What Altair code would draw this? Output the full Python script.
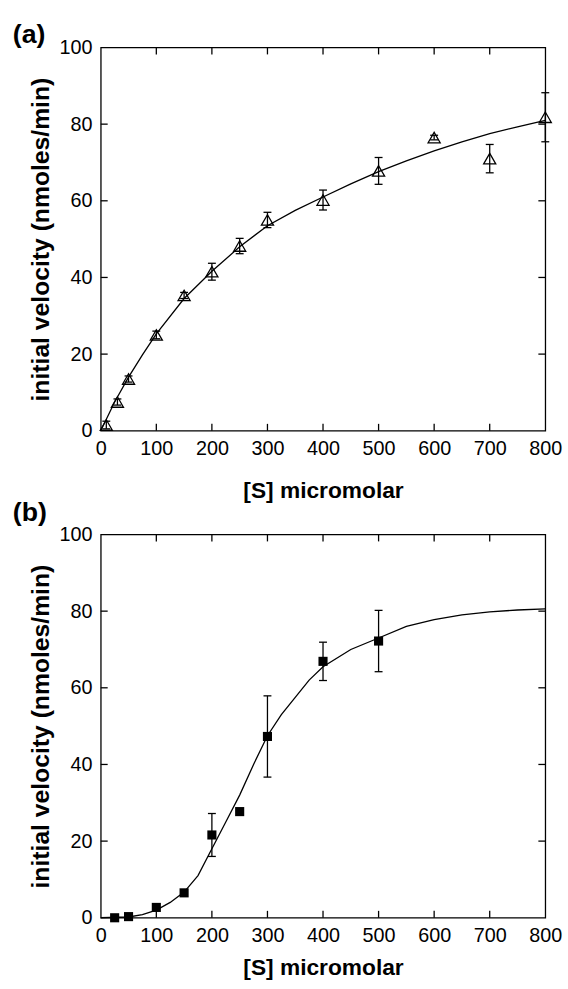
import altair as alt
import pandas as pd

# ---------------- Panel (a): hyperbolic kinetics ----------------
s_a = [10, 30, 50, 100, 150, 200, 250, 300, 400, 500, 600, 700, 800]
v_a = [1.5, 7.5, 13.5, 25.0, 35.3, 41.5, 48.2, 55.0, 60.2, 67.8, 76.5, 71.0, 81.8]
e_a = [1.0, 0.8, 0.8, 1.0, 0.8, 2.2, 2.0, 2.0, 2.6, 3.5, 0.6, 3.7, 6.4]
curve_a_x = [0, 10, 25, 50, 75, 100, 150, 200, 250, 300, 350, 400, 450, 500,
             550, 600, 650, 700, 750, 800]
curve_a_y = [0, 3.0, 7.5, 14.0, 19.8, 25.3, 34.5, 41.6, 48.0, 53.5, 57.5, 61.0,
             64.4, 67.6, 70.4, 73.0, 75.4, 77.5, 79.3, 81.0]

# ---------------- Panel (b): sigmoidal kinetics ----------------
s_b = [25, 50, 100, 150, 200, 250, 300, 400, 500]
v_b = [0.0, 0.3, 2.7, 6.5, 21.6, 27.7, 47.3, 66.9, 72.2]
e_b = [0, 0, 0, 0, 5.6, 0, 10.6, 5.0, 8.0]
curve_b_x = [0, 50, 75, 100, 125, 150, 175, 200, 225, 250, 275, 300, 325, 350,
             375, 400, 450, 500, 550, 600, 650, 700, 750, 800]
curve_b_y = [0, 0.2, 0.8, 2.0, 4.0, 6.7, 11.0, 18.0, 25.0, 32.0, 40.0, 47.5,
             53.0, 57.5, 62.0, 65.5, 70.0, 73.0, 76.0, 77.8, 79.0, 79.8, 80.3, 80.6]

x_labels = [0, 100, 200, 300, 400, 500, 600, 700, 800]
y_labels = [0, 20, 40, 60, 80, 100]
x_ticks = [100, 200, 300, 400, 500, 600, 700]
y_ticks = [20, 40, 60, 80]

X_TITLE = "[S] micromolar"
Y_TITLE = "initial velocity (nmoles/min)"

W, H = 450, 388
TICK = 7
LW = 1.3
FONT = "Liberation Sans"


def panel(s, v, e, cx, cy, label, marker, xtitle_pad, label_dy):
    xs = alt.Scale(domain=[0, 800], nice=False, zero=False)
    ys = alt.Scale(domain=[0, 100], nice=False, zero=False)
    xax = alt.Axis(values=x_labels, ticks=False, tickSize=0, domain=False, grid=False,
                   labelFont=FONT, labelFontSize=20, labelColor="black", labelPadding=8,
                   labelFlush=False, labelOverlap=False,
                   title=X_TITLE, titleFont=FONT, titleFontSize=23, titleFontWeight="bold",
                   titleColor="black", titlePadding=xtitle_pad)
    yax = alt.Axis(values=y_labels, ticks=False, tickSize=0, domain=False, grid=False,
                   labelFont=FONT, labelFontSize=20, labelColor="black", labelPadding=9,
                   labelFlush=False, labelOverlap=False,
                   title=Y_TITLE, titleFont=FONT, titleFontSize=25, titleFontWeight="bold",
                   titleColor="black", titlePadding=6)
    X = lambda f: alt.X(f, scale=xs, axis=xax)
    Y = lambda f: alt.Y(f, scale=ys, axis=yax)

    pts = pd.DataFrame({"S": s, "V": v, "E": e})
    err = pts[pts["E"] > 0]
    crv = pd.DataFrame({"S": cx, "V": cy})
    xt = pd.DataFrame({"S": x_ticks})
    yt = pd.DataFrame({"V": y_ticks})

    line = alt.Chart(crv).mark_line(color="black", strokeWidth=LW).encode(x=X("S:Q"), y=Y("V:Q"))
    base_err = alt.Chart(err).transform_calculate(lo="datum.V - datum.E", hi="datum.V + datum.E")
    bars = base_err.mark_rule(color="black", strokeWidth=LW).encode(
        x=X("S:Q"), y=Y("lo:Q"), y2="hi:Q")
    cap_lo = base_err.mark_tick(color="black", orient="horizontal", size=8, thickness=LW,
                                opacity=1).encode(x=X("S:Q"), y=Y("lo:Q"))
    cap_hi = base_err.mark_tick(color="black", orient="horizontal", size=8, thickness=LW,
                                opacity=1).encode(x=X("S:Q"), y=Y("hi:Q"))
    if marker == "triangle":
        pm = alt.Chart(pts).mark_point(shape="triangle-up", size=150, filled=False,
                                       stroke="black", strokeWidth=LW, opacity=1)
    else:
        pm = alt.Chart(pts).mark_square(size=85, color="black", opacity=1)
    pm = pm.encode(x=X("S:Q"), y=Y("V:Q"))

    # inward ticks on all four sides
    t_left = alt.Chart(yt).mark_rule(color="black", strokeWidth=LW).encode(
        y=Y("V:Q"), x=alt.value(0), x2=alt.value(TICK))
    t_right = alt.Chart(yt).mark_rule(color="black", strokeWidth=LW).encode(
        y=Y("V:Q"), x=alt.value(W - TICK), x2=alt.value(W))
    t_bot = alt.Chart(xt).mark_rule(color="black", strokeWidth=LW).encode(
        x=X("S:Q"), y=alt.value(H), y2=alt.value(H - TICK))
    t_top = alt.Chart(xt).mark_rule(color="black", strokeWidth=LW).encode(
        x=X("S:Q"), y=alt.value(0), y2=alt.value(TICK))

    lab = alt.Chart(pd.DataFrame({"t": [label]})).mark_text(
        align="left", baseline="alphabetic", font=FONT, fontSize=27, fontWeight="bold",
        color="black").encode(text="t:N", x=alt.value(-89), y=alt.value(label_dy))

    return alt.layer(line, bars, cap_lo, cap_hi, pm, t_left, t_right, t_bot, t_top, lab).properties(
        width=W, height=H)


pa = panel(s_a, v_a, e_a, curve_a_x, curve_a_y, "(a)", "triangle", 22, -5)
pb = panel(s_b, v_b, e_b, curve_b_x, curve_b_y, "(b)", "square", 11, -14)

chart = alt.vconcat(pa, pb, spacing=105, bounds="flush").properties(
    padding={"left": 12, "top": 14, "right": 5, "bottom": 0},
    background="white",
).configure_view(stroke="black", strokeWidth=LW)

chart.save("out.html", embed_options={"renderer": "svg", "actions": False})
